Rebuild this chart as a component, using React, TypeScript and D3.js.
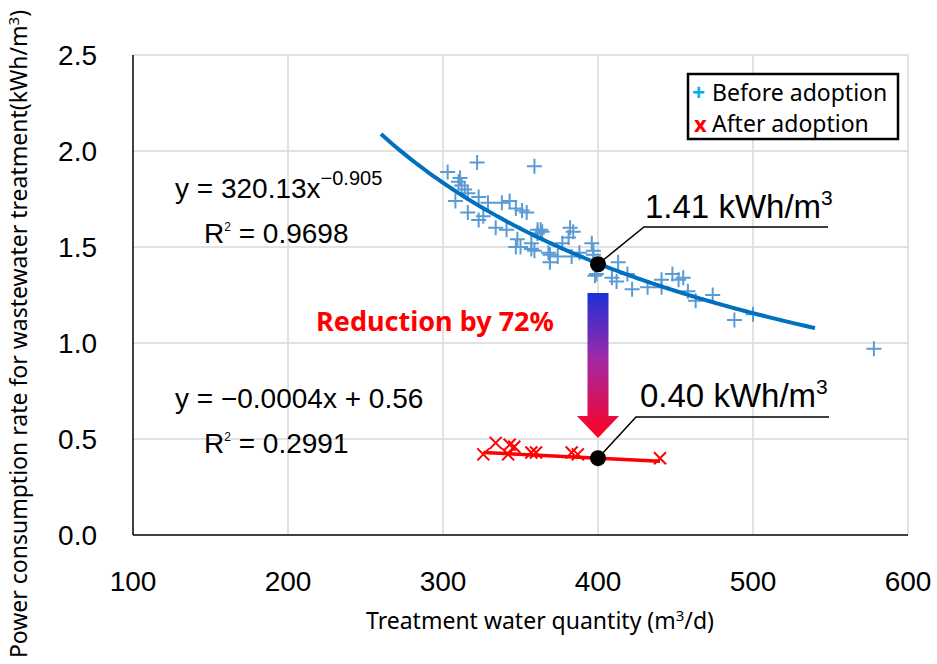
import React from 'react';
import * as d3 from 'd3';

// Before adoption (treatment water quantity m3/d, power consumption kWh/m3)
const beforeX = [322, 359, 303, 311, 310, 312, 314, 308, 316, 323, 316, 323, 326, 329, 334, 341, 338, 343, 347, 351,
  354, 348, 347, 357, 359, 364, 361, 368, 369, 374, 377, 350, 357, 361, 363, 369, 382, 384, 381, 383,
  388, 396, 397, 399, 397, 398, 413, 409, 412, 419, 422, 432, 441, 441, 448, 452, 455, 458, 463, 474,
  488, 500, 578];
const beforeY = [1.94, 1.92, 1.89, 1.86, 1.84, 1.82, 1.80, 1.74, 1.78, 1.76, 1.68, 1.64, 1.66, 1.73, 1.60, 1.59, 1.73, 1.74, 1.70, 1.69,
  1.68, 1.54, 1.50, 1.52, 1.48, 1.58, 1.59, 1.47, 1.42, 1.45, 1.52, 1.50, 1.49, 1.57, 1.59, 1.46, 1.60, 1.58, 1.55, 1.45,
  1.47, 1.52, 1.48, 1.36, 1.46, 1.35, 1.42, 1.34, 1.32, 1.36, 1.28, 1.29, 1.33, 1.29, 1.36, 1.33, 1.34, 1.27, 1.22, 1.25,
  1.12, 1.15, 0.97];

// After adoption
const afterX = [326, 334, 343, 346, 342, 357, 360, 383, 387, 440];
const afterY = [0.42, 0.48, 0.47, 0.46, 0.42, 0.43, 0.43, 0.43, 0.42, 0.40];

// trendlines
const powerCoef = 320.13;
const powerExp = -0.905;
const powerRange = [260, 540];
const linSlope = -0.0004;
const linIntercept = 0.56;

const xTicks = [100, 200, 300, 400, 500, 600];
const yTicks = [0.0, 0.5, 1.0, 1.5, 2.0, 2.5];

const refX = 400;
const refValues = [1.41, 0.40];

const App = () => {
  const width = 937, height = 664;
  const x = d3.scaleLinear().domain([100, 600]).range([133, 908]);
  const y = d3.scaleLinear().domain([0, 2.5]).range([535, 55]);

  const powerPts = d3.range(powerRange[0], powerRange[1] + 1, 2).map((v) => [v, powerCoef * Math.pow(v, powerExp)]);
  const line = d3.line<number[]>().x((d) => x(d[0])).y((d) => y(d[1])).curve(d3.curveMonotoneX);
  const afterMin = d3.min(afterX) as number;
  const afterMax = d3.max(afterX) as number;

  const numFont = '"Liberation Sans", Arial, sans-serif';
  const sans = '"Noto Sans", sans-serif';
  const xc = x(refX);
  const arrowTop = y(1.26), shaftBottom = y(0.62), tip = y(0.505);
  const arrowPath = `M${xc - 10.5},${arrowTop} L${xc + 10.5},${arrowTop} L${xc + 10.5},${shaftBottom} L${xc + 21},${shaftBottom} L${xc},${tip} L${xc - 21},${shaftBottom} L${xc - 10.5},${shaftBottom} Z`;

  const p1 = [x(refX), y(refValues[0])];
  const p2 = [x(refX), y(refValues[1])];

  return (
    <svg width={width} height={height} style={{ position: 'absolute', left: 0, top: 0, background: '#fff' }}>
      <defs>
        <linearGradient id="arrowGrad" x1="0" y1="0" x2="0" y2="1">
          <stop offset="0" stopColor="#1a2fd6" />
          <stop offset="0.45" stopColor="#a02aa8" />
          <stop offset="1" stopColor="#ff0020" />
        </linearGradient>
      </defs>

      {/* grid */}
      {xTicks.slice(1).map((t) => (
        <line key={'gx' + t} x1={x(t)} x2={x(t)} y1={y(0)} y2={y(2.5)} stroke="#d9d9d9" strokeWidth={1.5} />
      ))}
      {yTicks.slice(1).map((t) => (
        <line key={'gy' + t} x1={x(100)} x2={x(600)} y1={y(t)} y2={y(t)} stroke="#d9d9d9" strokeWidth={1.5} />
      ))}
      <line x1={x(100)} x2={x(100)} y1={y(0)} y2={y(2.5)} stroke="#000" strokeWidth={1.5} />
      <line x1={x(100)} x2={x(600)} y1={y(0)} y2={y(0)} stroke="#000" strokeWidth={1.5} />

      {/* tick labels */}
      {yTicks.map((t) => (
        <text key={'ty' + t} x={97} y={y(t) + 10} textAnchor="end" fontFamily={numFont} fontSize={28} fill="#000">
          {t.toFixed(1)}
        </text>
      ))}
      {xTicks.map((t) => (
        <text key={'tx' + t} x={x(t)} y={591} textAnchor="middle" fontFamily={numFont} fontSize={28} fill="#000">
          {t}
        </text>
      ))}

      {/* axis titles */}
      <text x={540} y={629} textAnchor="middle" fontFamily={sans} fontSize={23} fill="#000">
        Treatment water quantity (m<tspan dy={-8} fontSize={15}>3</tspan><tspan dy={8}>/d)</tspan>
      </text>
      <text transform="translate(27,334) rotate(-90)" textAnchor="middle" fontFamily={sans} fontSize={23} fill="#000">
        Power consumption rate for wastewater treatment(kWh/m<tspan dy={-8} fontSize={15}>3</tspan><tspan dy={8}>)</tspan>
      </text>

      {/* before points */}
      {beforeX.map((v, i) => {
        const cx = x(v), cy = y(beforeY[i]);
        return (
          <path key={'b' + i} d={`M${cx - 7.5},${cy} H${cx + 7.5} M${cx},${cy - 7.5} V${cy + 7.5}`} stroke="#5b9bd5" strokeWidth={2} fill="none" />
        );
      })}
      <path d={line(powerPts) || ''} stroke="#0070c0" strokeWidth={4} fill="none" />

      {/* after points */}
      {afterX.map((v, i) => {
        const cx = x(v), cy = y(afterY[i]);
        return (
          <path key={'a' + i} d={`M${cx - 6},${cy - 6} L${cx + 6},${cy + 6} M${cx - 6},${cy + 6} L${cx + 6},${cy - 6}`} stroke="#ff0000" strokeWidth={2} fill="none" />
        );
      })}
      <line x1={x(afterMin)} x2={x(afterMax)} y1={y(linSlope * afterMin + linIntercept)} y2={y(linSlope * afterMax + linIntercept)} stroke="#ff0000" strokeWidth={3.5} />

      {/* arrow */}
      <path d={arrowPath} fill="url(#arrowGrad)" />
      <text x={435} y={331} textAnchor="middle" fontFamily={sans} fontWeight="bold" fontSize={27} fill="#ff0000">
        Reduction by 72%
      </text>

      {/* equations */}
      <text x={175} y={198} fontFamily={numFont} fontSize={28} fill="#000">
        y = 320.13x<tspan dy={-13} fontSize={20}>−0.905</tspan>
      </text>
      <text x={204} y={243} fontFamily={numFont} fontSize={28} fill="#000">
        R<tspan dy={-12} fontSize={12}>2</tspan><tspan dy={12}> = 0.9698</tspan>
      </text>
      <text x={175} y={408} fontFamily={numFont} fontSize={28} fill="#000">
        y = −0.0004x + 0.56
      </text>
      <text x={204} y={453} fontFamily={numFont} fontSize={28} fill="#000">
        R<tspan dy={-12} fontSize={12}>2</tspan><tspan dy={12}> = 0.2991</tspan>
      </text>

      {/* value callouts */}
      <polyline points={`${p1[0]},${p1[1]} 644,227 828,227`} stroke="#000" strokeWidth={1.5} fill="none" />
      <circle cx={p1[0]} cy={p1[1]} r={8} fill="#000" />
      <text x={645} y={218} fontFamily={numFont} fontSize={33} fill="#000">
        {refValues[0].toFixed(2)} kWh/m<tspan dy={-13} fontSize={21}>3</tspan>
      </text>
      <polyline points={`${p2[0]},${p2[1]} 636,417 829,417`} stroke="#000" strokeWidth={1.5} fill="none" />
      <circle cx={p2[0]} cy={p2[1]} r={8} fill="#000" />
      <text x={640} y={407} fontFamily={numFont} fontSize={33} fill="#000">
        {refValues[1].toFixed(2)} kWh/m<tspan dy={-13} fontSize={21}>3</tspan>
      </text>

      {/* legend */}
      <rect x={688} y={74} width={210} height={65} fill="#fff" stroke="#000" strokeWidth={2.5} />
      <text x={692} y={101} fontFamily={sans} fontWeight="bold" fontSize={23} fill="#00b0f0">+</text>
      <text x={712} y={101} fontFamily={sans} fontSize={23} fill="#000">Before adoption</text>
      <text x={694} y={132} fontFamily={sans} fontWeight="bold" fontSize={22} fill="#ff0000">x</text>
      <text x={712} y={132} fontFamily={sans} fontSize={23} fill="#000">After adoption</text>
    </svg>
  );
};

export default App;
